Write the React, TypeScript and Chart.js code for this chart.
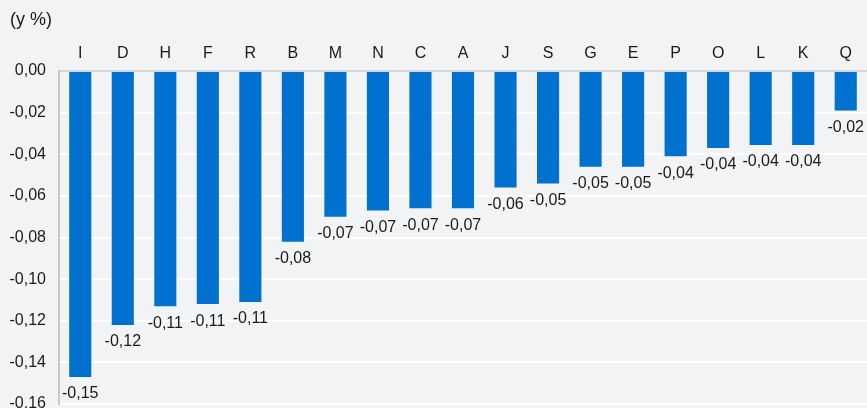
import React, { useEffect, useRef } from "react";
import { Chart, registerables } from "chart.js";

Chart.register(...registerables);

const categories = ["I", "D", "H", "F", "R", "B", "M", "N", "C", "A", "J", "S", "G", "E", "P", "O", "L", "K", "Q"];
const values = [-0.147, -0.122, -0.113, -0.112, -0.111, -0.082, -0.07, -0.067, -0.066, -0.066, -0.056, -0.054, -0.046, -0.046, -0.041, -0.037, -0.0355, -0.0355, -0.019];
const unitLabel = "(y %)";
const yMin = -0.16;
const yMax = 0;
const yStep = 0.02;

const FONT = "'Liberation Sans', Arial, sans-serif";
const fmt = (v: number) => {
  const s = (Math.abs(v) < 1e-9 ? 0 : v).toFixed(2);
  return s.replace(".", ",");
};

const labelsPlugin = {
  id: "customLabels",
  afterDatasetsDraw(chart: any) {
    const ctx = chart.ctx;
    const meta = chart.getDatasetMeta(0);
    ctx.save();
    ctx.font = `16px ${FONT}`;
    ctx.fillStyle = "#1a1a1a";
    ctx.textAlign = "center";
    ctx.textBaseline = "middle";
    meta.data.forEach((bar: any, i: number) => {
      ctx.fillText(fmt(values[i]), bar.x, bar.y + 17);
    });
    ctx.font = `18px ${FONT}`;
    ctx.textAlign = "left";
    ctx.fillText(unitLabel, 10, 20);
    ctx.restore();
  },
};

export default function App() {
  const ref = useRef<HTMLCanvasElement | null>(null);
  useEffect(() => {
    if (!ref.current) return;
    const chart = new Chart(ref.current, {
      type: "bar",
      data: {
        labels: categories,
        datasets: [
          {
            data: values,
            backgroundColor: "#0071CE",
            borderWidth: 0,
            barPercentage: 0.52,
            categoryPercentage: 1,
          },
        ],
      },
      options: {
        animation: false,
        responsive: false,
        maintainAspectRatio: false,
        layout: { padding: { left: 0, right: 0, top: 0, bottom: 4 } },
        plugins: { legend: { display: false }, tooltip: { enabled: false } },
        scales: {
          x: {
            position: "top",
            grid: { display: false },
            border: { display: false },
            ticks: { color: "#1a1a1a", font: { size: 16, family: FONT }, padding: 0, maxRotation: 0 },
            afterFit: (s: any) => {
              s.height = 71;
              s.paddingLeft = 0;
              s.paddingRight = 0;
            },
          },
          y: {
            min: yMin,
            max: yMax,
            grid: {
              color: (c: any) => (Math.abs(c.tick?.value ?? 1) < 1e-9 ? "#d3d5d8" : "#ffffff"),
              lineWidth: 2,
              drawTicks: false,
            },
            border: { display: true, color: "#c8cacd", width: 2 },
            ticks: {
              stepSize: yStep,
              color: "#1a1a1a",
              font: { size: 16, family: FONT },
              padding: 13,
              callback: (v: any) => fmt(Number(v)),
            },
            afterFit: (s: any) => {
              s.width = 59;
              s.paddingTop = 0;
              s.paddingBottom = 0;
            },
          },
        },
      },
      plugins: [labelsPlugin],
    });
    return () => chart.destroy();
  }, []);
  return (
    <div style={{ position: "absolute", left: 0, top: 0, width: 867, height: 408, background: "#f2f3f5" }}>
      <canvas ref={ref} width={867} height={408} style={{ display: "block", width: 867, height: 408 }} />
    </div>
  );
}
